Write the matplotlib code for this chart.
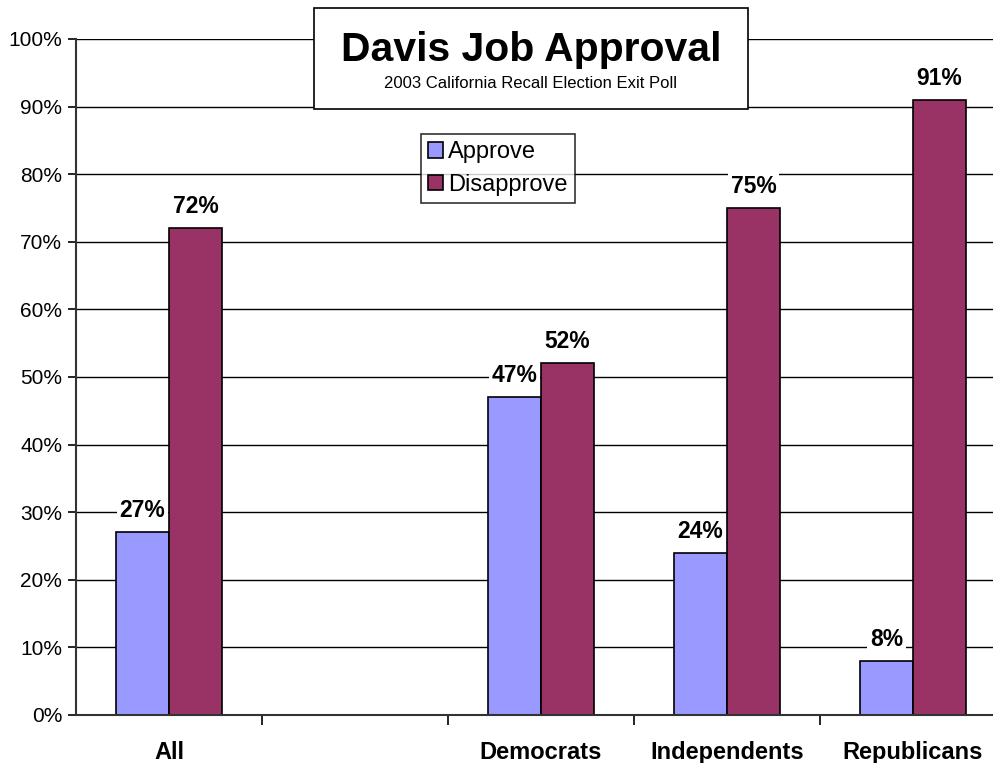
import matplotlib
matplotlib.use("Agg")
import numpy as np
import matplotlib.pyplot as plt
import matplotlib.ticker as mticker
from matplotlib.patches import Rectangle

plt.rcParams["font.family"] = ["Liberation Sans", "DejaVu Sans"]

# ── data ─────────────────────────────────────────────────────────────
categories = ["All", "", "Democrats", "Independents", "Republicans"]
approve = [27, np.nan, 47, 24, 8]
disapprove = [72, np.nan, 52, 75, 91]
title = "Davis Job Approval"
subtitle = "2003 California Recall Election Exit Poll"

W, H = 993, 763
fig = plt.figure(figsize=(W / 100, H / 100), dpi=100)

# plot area runs past the right edge, like the original
left, right, top, bottom = 76, 1006, 39, 715
ax = fig.add_axes([left / W, 1 - bottom / H, (right - left) / W, (bottom - top) / H])

x = np.arange(len(categories))
bw = 0.285
ax.bar(x - bw / 2, approve, bw, color="#9999FF", edgecolor="black", linewidth=1.2,
       label="Approve", zorder=2)
ax.bar(x + bw / 2, disapprove, bw, color="#993366", edgecolor="black", linewidth=1.2,
       label="Disapprove", zorder=2)

for xs, vals in [(x - bw / 2, approve), (x + bw / 2, disapprove)]:
    for xi, v in zip(xs, vals):
        if np.isnan(v):
            continue
        ax.text(xi, v + 3.2, f"{v:.0f}%", ha="center", va="center", fontsize=16.5,
                fontweight="bold", zorder=4,
                bbox=dict(facecolor="white", edgecolor="none", pad=2))

ax.set_xlim(-0.5, len(categories) - 0.5)
ax.set_ylim(0, 100)
ax.yaxis.set_major_locator(mticker.MultipleLocator(10))
ax.yaxis.set_major_formatter(mticker.FuncFormatter(lambda v, _: f"{v:.0f}%"))
ax.grid(axis="y", color="black", linewidth=1.0, zorder=0)
ax.set_axisbelow(True)

ax.set_xticks(x)
ax.set_xticklabels(categories, fontsize=17, fontweight="bold")
ax.tick_params(axis="x", length=0, pad=19)
ax.set_xticks(np.arange(len(categories) - 1) + 0.5, minor=True)
ax.tick_params(axis="x", which="minor", length=7, width=1.2, direction="out")
ax.tick_params(axis="y", length=6, width=1.2, labelsize=15, pad=4)

ax.spines[["top", "right"]].set_visible(False)
ax.spines["left"].set_linewidth(1.5)
ax.spines["bottom"].set_linewidth(1.5)
ax.spines["left"].set_color("#333333")
ax.spines["bottom"].set_color("#333333")

# title box
bx0, bx1, by0, by1 = 314, 748, 8, 109
fig.patches.append(Rectangle((bx0 / W, 1 - by1 / H), (bx1 - bx0) / W, (by1 - by0) / H,
                             transform=fig.transFigure, facecolor="white",
                             edgecolor="black", linewidth=1.2, zorder=5))
fig.text((bx0 + bx1) / 2 / W, 1 - 50 / H, title, ha="center", va="center",
         fontsize=29.4, fontweight="bold", zorder=6)
fig.text((bx0 + bx1) / 2 / W, 1 - 83 / H, subtitle, ha="center", va="center",
         fontsize=12, zorder=6)

# legend
leg = fig.legend(loc="upper left", bbox_to_anchor=(421 / W, 1 - 134 / H),
                 fontsize=17, frameon=True, fancybox=False, handlelength=0.65,
                 handleheight=0.65, handletextpad=0.2, borderpad=0.3,
                 labelspacing=0.45, borderaxespad=0)
leg.get_frame().set_edgecolor("black")
leg.get_frame().set_linewidth(1.2)

fig.savefig("out.png", dpi=100)
